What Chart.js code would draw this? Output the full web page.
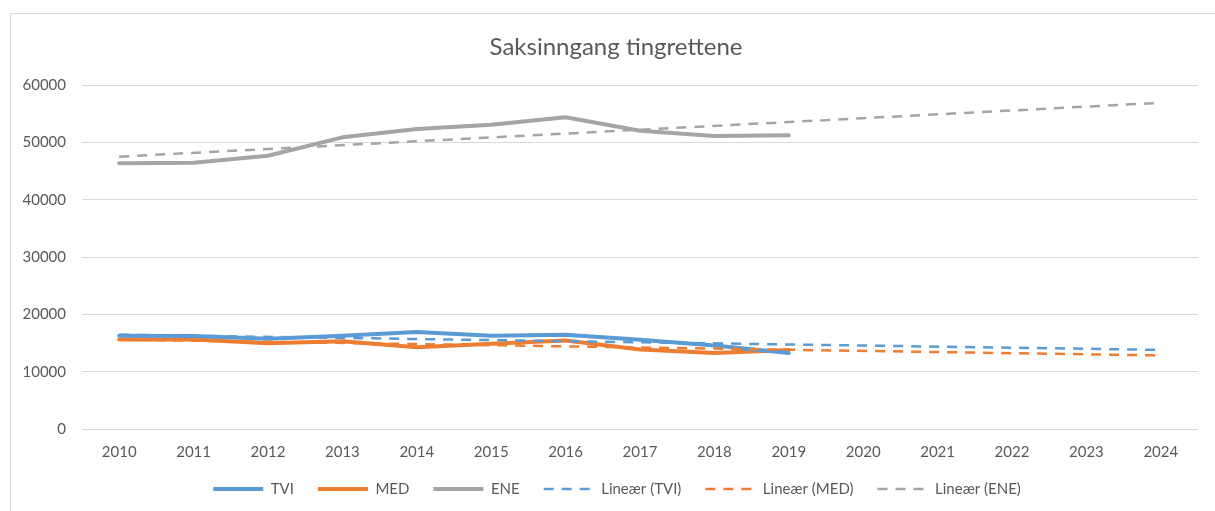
<!DOCTYPE html>
<html>
<head>
<meta charset="utf-8">
<script src="https://cdn.jsdelivr.net/npm/chart.js@4/dist/chart.umd.min.js"></script>
<style>
  html, body { margin: 0; padding: 0; background: #fff; overflow: hidden; }
  #wrap { position: relative; width: 1215px; height: 511px; }
  #frame { position: absolute; left: 10px; top: 13px; width: 1300px; height: 600px;
           border: 1px solid #d9d9d9; box-sizing: border-box; pointer-events: none; }
  canvas { position: absolute; left: 0; top: 0; }
</style>
</head>
<body>
<div id="wrap">
  <canvas id="saksChart" width="1215" height="511"></canvas>
  <div id="frame"></div>
</div>
<script>
// data lest av bildet
const years = ['2010', '2011', '2012', '2013', '2014', '2015', '2016', '2017',
               '2018', '2019', '2020', '2021', '2022', '2023', '2024'];
const tvi = [16260, 16200, 15730, 16260, 16900, 16260, 16430, 15560, 14560, 13260];
const med = [15610, 15610, 14970, 15320, 14270, 14850, 15440, 13860, 13270, 13800];
const ene = [46340, 46450, 47670, 50870, 52330, 53080, 54360, 52030, 51100, 51220];
// trendlinjer: start (2010) og slutt (2024)
const tviTrend = [16450, 13800];
const medTrend = [15600, 12830];
const eneTrend = [47500, 56900];
const yTicks = [0, 10000, 20000, 30000, 40000, 50000, 60000];

const textColor = '#595959';
const gridColor = '#d9d9d9';
const font = 'Lato, "Liberation Sans", sans-serif';

// trend fra to endepunkter, resten tomt
const trendSeries = (pair) => years.map((y, i) => i === 0 ? pair[0] : (i === years.length - 1 ? pair[1] : null));

const trendSet = (label, pair, color) => ({
    label: label,
    data: trendSeries(pair),
    borderColor: color,
    backgroundColor: color,
    borderWidth: 2.5,
    borderDash: [10, 8],
    spanGaps: true,
    pointRadius: 0,
    fill: false
});

const solidSet = (label, values, color) => ({
    label: label,
    data: values,
    borderColor: color,
    backgroundColor: color,
    borderWidth: 4,
    borderJoinStyle: 'round',
    borderCapStyle: 'round',
    pointRadius: 0,
    fill: false
});

// tittel og legende sentreres litt til høyre, som i Excel
const shiftBoxes = {
    id: 'shiftBoxes',
    afterLayout(chart) {
        chart.legend.left += 18;
        chart.legend.right += 18;
        chart.titleBlock.left += 17;
        chart.titleBlock.right += 17;
    }
};

const ctx = document.getElementById('saksChart').getContext('2d');
new Chart(ctx, {
    type: 'line',
    data: {
        labels: years,
        datasets: [
            trendSet('Lineær (TVI)', tviTrend, '#5b9bd5'),
            trendSet('Lineær (MED)', medTrend, '#ed7d31'),
            trendSet('Lineær (ENE)', eneTrend, '#a5a5a5'),
            solidSet('TVI', tvi, '#5b9bd5'),
            solidSet('MED', med, '#ed7d31'),
            solidSet('ENE', ene, '#a5a5a5')
        ]
    },
    plugins: [shiftBoxes],
    options: {
        responsive: false,
        animation: false,
        devicePixelRatio: 1,
        layout: { padding: { left: 0, right: 17, top: 0, bottom: 4.5 } },
        plugins: {
            title: {
                display: true,
                text: 'Saksinngang tingrettene',
                color: textColor,
                font: { family: font, size: 24, weight: 'normal' },
                padding: { top: 32.6, bottom: 23.6 }
            },
            legend: {
                position: 'bottom',
                labels: {
                    color: textColor,
                    font: { family: font, size: 15 },
                    usePointStyle: true,
                    pointStyle: 'line',
                    pointStyleWidth: 50,
                    padding: 24,
                    generateLabels: (chart) => {
                        const items = Chart.defaults.plugins.legend.labels.generateLabels(chart);
                        items.forEach(it => {
                            const ds = chart.data.datasets[it.datasetIndex];
                            it.lineDash = ds.borderDash || [];
                            it.lineWidth = ds.borderWidth;
                        });
                        return items;
                    },
                    // heltrukne serier først, så trendlinjene
                    sort: (a, b) => {
                        const rank = (it) => it.datasetIndex >= 3 ? it.datasetIndex - 3 : it.datasetIndex + 3;
                        return rank(a) - rank(b);
                    }
                }
            },
            tooltip: { enabled: false }
        },
        scales: {
            x: {
                offset: true,
                grid: { display: false, drawTicks: false },
                border: { display: false },
                ticks: {
                    color: textColor,
                    font: { family: font, size: 15 },
                    padding: 14,
                    maxRotation: 0
                },
                afterFit: (axis) => { axis.height = 28.5; }
            },
            y: {
                min: 0,
                max: 60000,
                afterBuildTicks: (axis) => { axis.ticks = yTicks.map(v => ({ value: v })); },
                grid: { color: gridColor, lineWidth: 1, drawTicks: false },
                border: { display: false },
                ticks: {
                    color: textColor,
                    font: { family: font, size: 15 },
                    padding: 16,
                    callback: (v) => String(v)
                },
                afterFit: (axis) => { axis.width = 82; }
            }
        }
    }
});
</script>
</body>
</html>
